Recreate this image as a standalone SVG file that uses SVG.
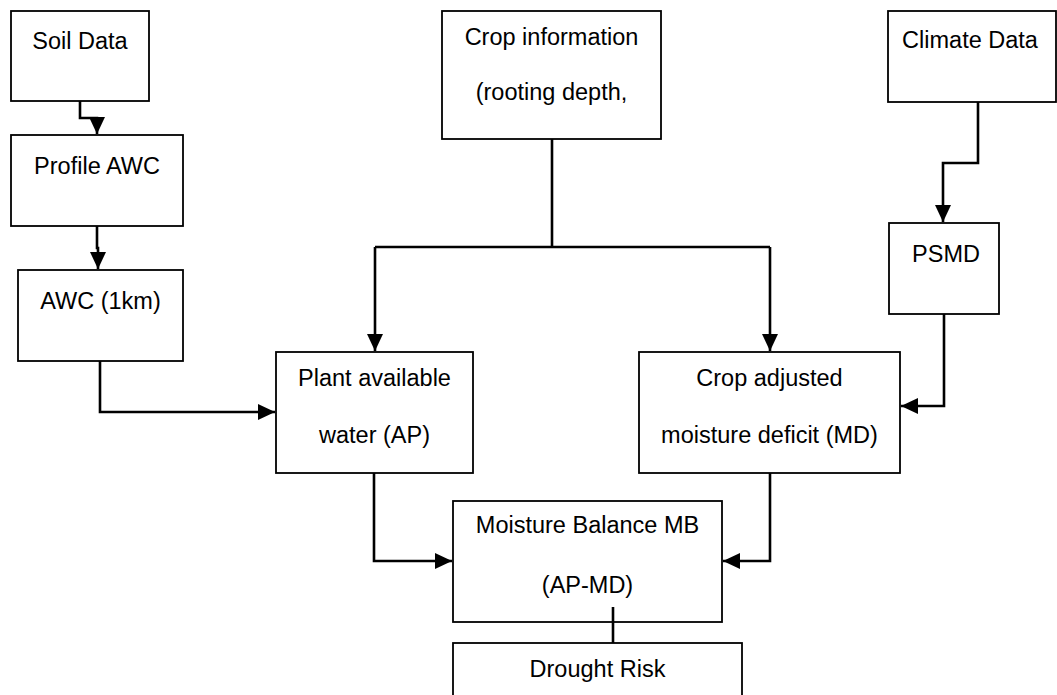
<svg xmlns="http://www.w3.org/2000/svg" width="1057" height="695" viewBox="0 0 1057 695">
<style>
.box{fill:#fff;stroke:#000;stroke-width:1.8}
.t{font-family:"Liberation Sans",Arial,sans-serif;font-size:23.5px;fill:#000;text-anchor:middle}
.c{fill:none;stroke:#000;stroke-width:2.6;stroke-linejoin:miter}
</style>
<defs>
<marker id="ah" markerUnits="userSpaceOnUse" markerWidth="18" markerHeight="16" refX="17" refY="8" orient="auto">
<path d="M0,0 L17,8 L0,16 Z" fill="#000"/>
</marker>
</defs>
<rect width="1057" height="695" fill="#fff"/>
<g id="soil"><rect class="box" x="11" y="11" width="138" height="90"/><text class="t" x="80" y="49">Soil Data</text></g>
<g id="profile"><rect class="box" x="11" y="135" width="172" height="91"/><text class="t" x="97" y="174">Profile AWC</text></g>
<g id="awc"><rect class="box" x="18" y="270" width="165" height="91"/><text class="t" x="100.5" y="309">AWC (1km)</text></g>
<g id="crop"><rect class="box" x="442" y="11" width="219" height="128"/><text class="t" x="551.5" y="45">Crop information</text><text class="t" x="551.5" y="100">(rooting depth,</text></g>
<g id="climate"><rect class="box" x="888" y="11" width="168" height="91"/><text class="t" x="970" y="48">Climate Data</text></g>
<g id="psmd"><rect class="box" x="889" y="223" width="110" height="91"/><text class="t" x="946" y="262">PSMD</text></g>
<g id="plant"><rect class="box" x="276" y="352" width="197" height="121"/><text class="t" x="374.5" y="386">Plant available</text><text class="t" x="374.5" y="443">water (AP)</text></g>
<g id="cropadj"><rect class="box" x="639" y="352" width="261" height="121"/><text class="t" x="769.5" y="386">Crop adjusted</text><text class="t" x="769.5" y="443">moisture deficit (MD)</text></g>
<g id="mb"><rect class="box" x="453" y="501" width="269" height="121"/><text class="t" x="587.5" y="533">Moisture Balance MB</text><text class="t" x="587.5" y="593">(AP-MD)</text></g>
<g id="drought"><rect class="box" x="453" y="643" width="289" height="70"/><text class="t" x="597.5" y="677">Drought Risk</text></g>
<g id="connectors">
<path class="c" d="M80,101 V118 H97 V134" marker-end="url(#ah)"/>
<path class="c" d="M97,226 V248 H98 V269" marker-end="url(#ah)"/>
<path class="c" d="M100,361 V412 H275" marker-end="url(#ah)"/>
<path class="c" d="M552,139 V247"/>
<path class="c" d="M375,247 H770"/>
<path class="c" d="M375,247 V351" marker-end="url(#ah)"/>
<path class="c" d="M770,247 V351" marker-end="url(#ah)"/>
<path class="c" d="M978,102 V163 H943 V222" marker-end="url(#ah)"/>
<path class="c" d="M944,314 V406 H901" marker-end="url(#ah)"/>
<path class="c" d="M374,473 V561 H452" marker-end="url(#ah)"/>
<path class="c" d="M770,473 V561 H723" marker-end="url(#ah)"/>
<path class="c" d="M613,607 V643"/>
</g>
</svg>
